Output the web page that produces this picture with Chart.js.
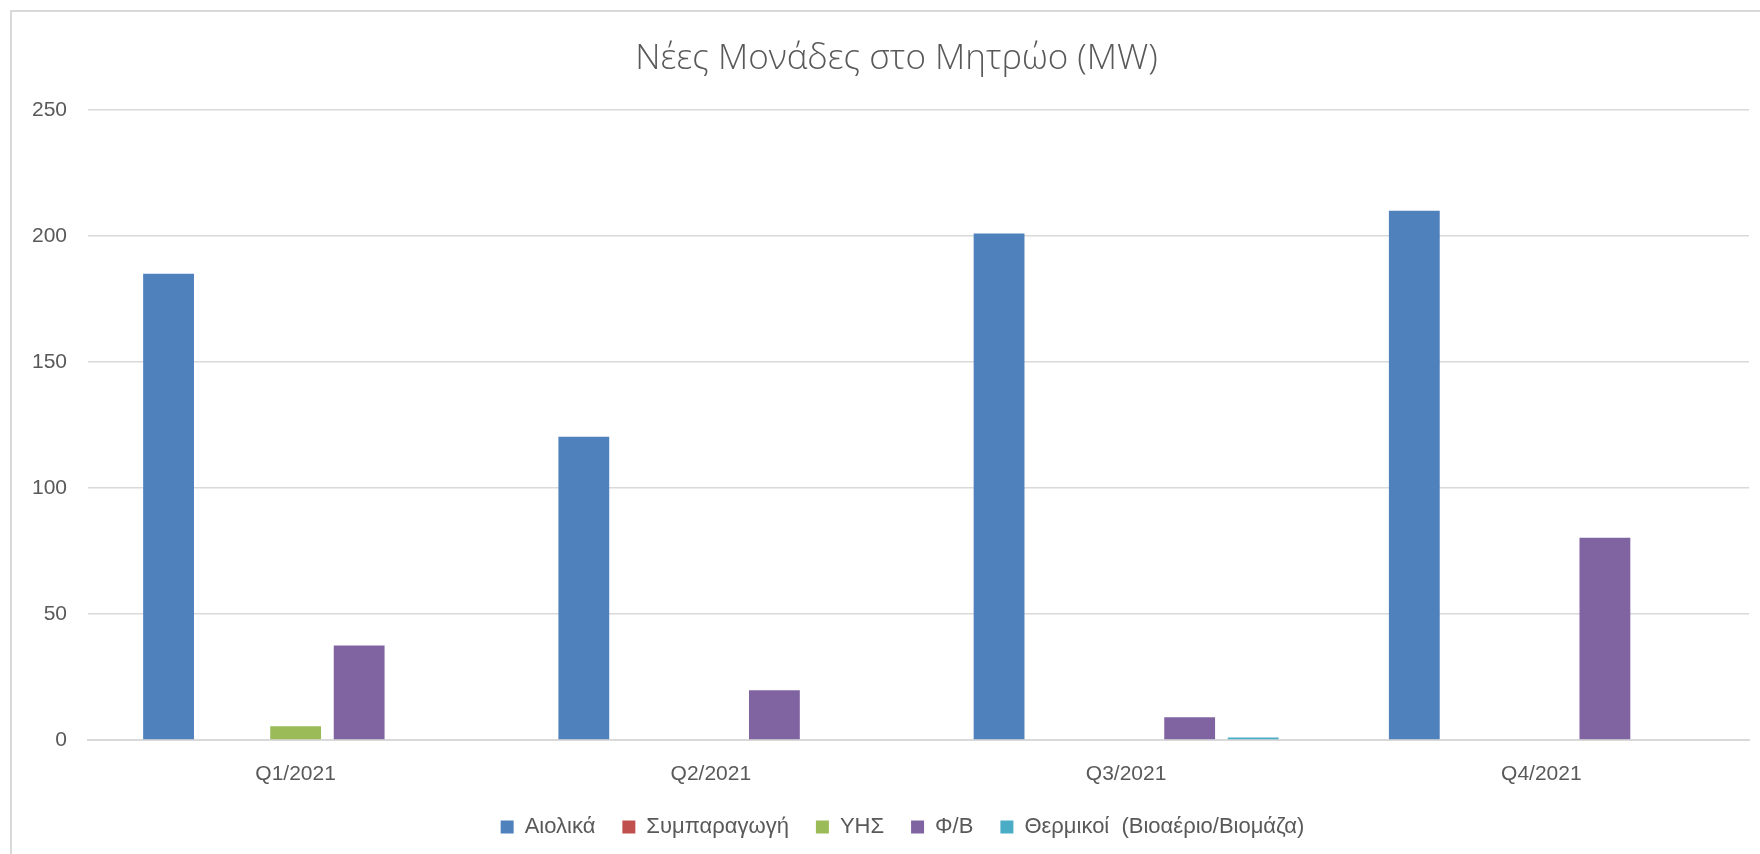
<!DOCTYPE html>
<html>
<head>
<meta charset="utf-8">
<script src="https://cdn.jsdelivr.net/npm/chart.js@4"></script>
<style>
  body { margin: 0; background: #fff; overflow: hidden; }
  #wrap {
    position: absolute; left: 10px; top: 10px;
    width: 1750px; height: 844px;
    border-left: 2px solid #d9d9d9; border-top: 2px solid #d9d9d9;
  }
</style>
</head>
<body>
<div id="wrap"><canvas id="grafico"></canvas></div>
<script>
const quarters = ['Q1/2021', 'Q2/2021', 'Q3/2021', 'Q4/2021'];
const aiolika = [185, 120.3, 201, 210];
const symparagogi = [0, 0, 0, 0];
const yis = [5.5, 0, 0, 0];
const fb = [37.5, 19.7, 9, 80.3];
const thermikoi = [0, 0, 1, 0];
const yTicks = [0, 50, 100, 150, 200, 250];

const txt = '#595959';
const grid = '#d9d9d9';
const fontName = 'Liberation Sans';

// title and legend in the original sit a bit right of the canvas centre
const boxShift = {
    id: 'boxShift',
    afterLayout: function(chart) {
        chart.legend.left += 22;
        chart.legend.right += 22;
        chart.titleBlock.left += 16;
        chart.titleBlock.right += 16;
    }
};

document.addEventListener("DOMContentLoaded", function() {
    const ctx = document.getElementById('grafico').getContext('2d');
    new Chart(ctx, {
        type: 'bar',
        data: {
            labels: quarters,
            datasets: [
                { label: 'Αιολικά', data: aiolika, backgroundColor: '#4f81bd' },
                { label: 'Συμπαραγωγή', data: symparagogi, backgroundColor: '#c0504d' },
                { label: 'ΥΗΣ', data: yis, backgroundColor: '#9bbb59' },
                { label: 'Φ/Β', data: fb, backgroundColor: '#8064a2' },
                { label: 'Θερμικοί  (Βιοαέριο/Βιομάζα)', data: thermikoi, backgroundColor: '#4bacc6' }
            ]
        },
        options: {
            responsive: true,
            maintainAspectRatio: false,
            animation: false,
            datasets: { bar: { categoryPercentage: 0.765, barPercentage: 0.8 } },
            layout: { padding: { left: 0, right: 13, top: 0, bottom: 8 } },
            plugins: {
                title: {
                    display: true,
                    text: 'Νέες Μονάδες στο Μητρώο (MW)',
                    color: txt,
                    font: { family: 'Open Sans', size: 35, weight: '300' },
                    padding: { top: 26, bottom: 30 }
                },
                legend: {
                    position: 'bottom',
                    labels: {
                        color: txt,
                        font: { family: fontName, size: 22 },
                        boxWidth: 13,
                        boxHeight: 13,
                        padding: 27
                    }
                },
                tooltip: { enabled: false }
            },
            scales: {
                x: {
                    afterFit: function(s) { s.height = 49; },
                    grid: { display: false, drawTicks: false },
                    border: { color: grid, width: 2 },
                    ticks: { color: txt, font: { family: fontName, size: 21 }, padding: 22 }
                },
                y: {
                    min: 0,
                    max: 250,
                    afterBuildTicks: function(s) { s.ticks = yTicks.map(v => ({ value: v })); },
                    afterFit: function(s) { s.width = 76; },
                    grid: { color: grid, lineWidth: 1.5, drawTicks: false },
                    border: { display: false },
                    ticks: { color: txt, font: { family: fontName, size: 21 }, padding: 21 }
                }
            }
        },
        plugins: [boxShift]
    });
});
</script>
</body>
</html>
